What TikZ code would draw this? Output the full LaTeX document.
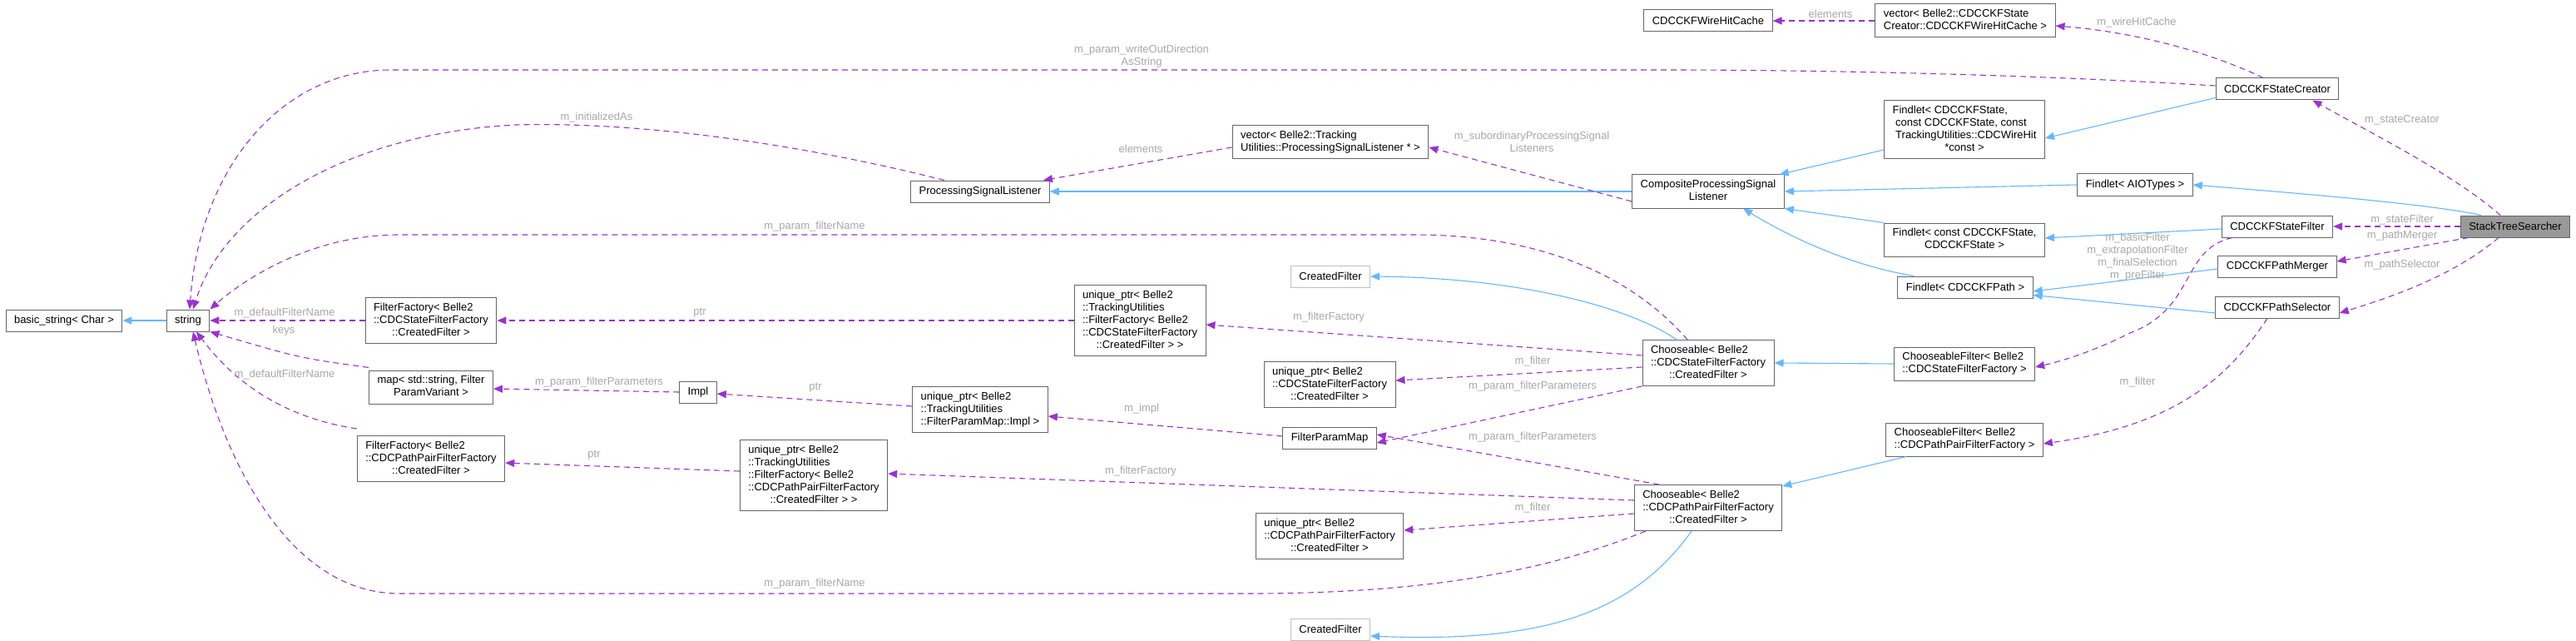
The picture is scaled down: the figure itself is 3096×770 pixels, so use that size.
\documentclass[tikz,border=0pt]{standalone}
\usepackage{fontspec}
\setmainfont{Liberation Sans}
\usetikzlibrary{arrows.meta}
\definecolor{inhc}{HTML}{63B8FF}
\definecolor{memc}{HTML}{9A32CD}
\definecolor{lblc}{HTML}{A8A8A8}
\definecolor{bdc}{HTML}{666666}
\definecolor{gbc}{HTML}{BFBFBF}
\newcommand\ml[2]{\begin{tabular}{@{}l@{}}#1\\\multicolumn{1}{@{}c@{}}{#2}\end{tabular}}
\begin{document}
\begin{tikzpicture}[x=1pt,y=-1pt,
  box/.style={draw=bdc, line width=1pt, fill=white, font=\fontsize{13}{15}\selectfont, inner xsep=10pt, inner ysep=5pt, minimum height=26pt},
  gbox/.style={box, draw=gbc},
  inh/.style={draw=inhc, line width=1.1pt, -{Triangle[length=11pt,width=9pt]}},
  mem/.style={draw=memc, line width=1.1pt, dash pattern=on 7pt off 5pt, -{Triangle[length=11pt,width=9pt]}},
  lab/.style={text=lblc, font=\fontsize{13}{15}\selectfont, inner sep=0pt, align=center}]
\path[use as bounding box, fill=white] (0,0) rectangle (3096,770);
\renewcommand\arraystretch{1}
% nodes
\node[box] (bs) at (77,385) {basic\_string< Char >};
\node[box] (str) at (226,385) {string};
\node[box] (ffs) at (518,385) {\ml{FilterFactory< Belle2\\::CDCStateFilterFactory}{::CreatedFilter >}};
\node[box] (map) at (518,465) {\ml{map< std::string, Filter}{ParamVariant >}};
\node[box] (ffp) at (518,551) {\ml{FilterFactory< Belle2\\::CDCPathPairFilterFactory}{::CreatedFilter >}};
\node[box] (impl) at (839,471) {Impl};
\node[box] (psl) at (1178,230) {ProcessingSignalListener};
\node[box] (upimpl) at (1178,492) {\ml{unique\_ptr< Belle2\\::TrackingUtilities}{::FilterParamMap::Impl >}};
\node[box] (upffp) at (978,571) {\ml{unique\_ptr< Belle2\\::TrackingUtilities\\::FilterFactory< Belle2\\::CDCPathPairFilterFactory}{::CreatedFilter > >}};
\node[box] (upffs) at (1370,385) {\ml{unique\_ptr< Belle2\\::TrackingUtilities\\::FilterFactory< Belle2\\::CDCStateFilterFactory}{::CreatedFilter > >}};
\node[box] (vpsl) at (1599,171) {\ml{vector< Belle2::Tracking}{Utilities::ProcessingSignalListener * >}};
\node[gbox] (cf1) at (1599,332) {CreatedFilter};
\node[box] (upcs) at (1598,462) {\ml{unique\_ptr< Belle2\\::CDCStateFilterFactory}{::CreatedFilter >}};
\node[box] (fpm) at (1598,526) {FilterParamMap};
\node[box] (upcp) at (1598,644) {\ml{unique\_ptr< Belle2\\::CDCPathPairFilterFactory}{::CreatedFilter >}};
\node[gbox] (cf2) at (1599,756) {CreatedFilter};
\node[box] (whc) at (2053,25) {CDCCKFWireHitCache};
\node[box] (cpsl) at (2053,230) {\ml{CompositeProcessingSignal}{Listener}};
\node[box] (chs) at (2053,436) {\ml{Chooseable< Belle2\\::CDCStateFilterFactory}{::CreatedFilter >}};
\node[box] (chp) at (2053,610) {\ml{Chooseable< Belle2\\::CDCPathPairFilterFactory}{::CreatedFilter >}};
\node[box] (vwhc) at (2362,25) {\ml{vector< Belle2::CDCCKFState}{Creator::CDCCKFWireHitCache >}};
\node[box] (f4) at (2361,156) {\ml{Findlet< CDCCKFState,\\\ const CDCCKFState, const\\\ TrackingUtilities::CDCWireHit}{*const >}};
\node[box] (fc) at (2361,288) {\ml{Findlet< const CDCCKFState,}{CDCCKFState >}};
\node[box] (fp) at (2362,345) {Findlet< CDCCKFPath >};
\node[box] (cfs) at (2361,437) {\ml{ChooseableFilter< Belle2}{::CDCStateFilterFactory >}};
\node[box] (cfp) at (2361,528) {\ml{ChooseableFilter< Belle2}{::CDCPathPairFilterFactory >}};
\node[box] (ai) at (2566,222) {Findlet< AIOTypes >};
\node[box] (sc) at (2737,107) {CDCCKFStateCreator};
\node[box] (sf) at (2737,272) {CDCCKFStateFilter};
\node[box] (pm) at (2737,320) {CDCCKFPathMerger};
\node[box] (ps) at (2737,369) {CDCCKFPathSelector};
\node[box, fill=black!40] (sts) at (3023,272) {StackTreeSearcher};
% inheritance
\draw[inh] (str.west) -- (bs.east);
\draw[inh] (cpsl.west) -- (psl.east);
\draw[inh] ([yshift=-24pt]f4.west) -- ([xshift=-6pt]cpsl.north east);
\draw[inh] (ai.west) -- (cpsl.east);
\draw[inh] (fc.north west) -- (cpsl.south east);
\draw[inh] ([xshift=20pt]fp.north west) .. controls (2230,320) and (2160,290) .. ([xshift=42pt]cpsl.south);
\draw[inh] ([yshift=3pt]sc.south west) -- ([yshift=-10pt]f4.east);
\draw[inh] ([xshift=25pt]sts.north west) .. controls (2920,245) and (2760,232) .. (ai.east);
\draw[inh] ([yshift=-3pt]sf.west) -- ([yshift=2pt]fc.east);
\draw[inh] ([yshift=-3pt]pm.west) -- ([yshift=-5pt]fp.east);
\draw[inh] ([yshift=-7pt]ps.west) -- ([yshift=4pt]fp.south east);
\draw[inh] ([xshift=-38pt]chs.north) .. controls (1960,370) and (1830,334) .. (cf1.east);
\draw[inh] (cfs.west) -- (chs.east);
\draw[inh] ([xshift=25pt]cfp.south west) -- ([yshift=-2pt]chp.north east);
\draw[inh] ([xshift=-20pt]chp.south) .. controls (1960,740) and (1850,772) .. ([yshift=-8pt]cf2.east);
% members
\draw[mem] ([yshift=4pt]sc.west) .. controls (2450,90) and (2200,84) .. (2000,84) -- (470,84) .. controls (340,84) and (240,200) .. ([xshift=2pt]str.north);
\node[lab] (l1) at (1372,68) {m\_param\_writeOutDirection\\AsString};
\draw[mem] ([xshift=-17pt]sc.north) .. controls (2650,60) and (2560,38) .. ([yshift=-6pt]vwhc.east);
\node[lab] (l2) at (2568,27) {m\_wireHitCache};
\draw[mem] (vwhc.west) -- (whc.east);
\node[lab] (l3) at (2200,17) {elements};
\draw[mem] ([xshift=-43pt]psl.north) .. controls (950,170) and (760,146) .. (620,150) .. controls (420,160) and (270,250) .. ([xshift=6pt]str.north);
\node[lab] (l4) at (717,141) {m\_initializedAs};
\draw[mem] ([yshift=-12pt]cpsl.west) -- ([yshift=-6pt]vpsl.east);
\node[lab] (l5) at (1841,170) {m\_subordinaryProcessingSignal\\Listeners};
\draw[mem] ([yshift=-6pt]vpsl.west) -- ([xshift=76pt]psl.north);
\node[lab] (l6) at (1371,179) {elements};
\draw[mem] ([xshift=-25pt]chs.north) .. controls (1960,330) and (1850,282) .. (1700,282) -- (480,282) .. controls (380,282) and (300,330) .. (str.north east);
\node[lab] (l7) at (979,272) {m\_param\_filterName};
\draw[mem] ([yshift=9pt]chs.west) -- ([yshift=-5pt]upffs.east);
\node[lab] (l8) at (1597,381) {m\_filterFactory};
\draw[mem] ([yshift=-5pt]chs.west) -- ([yshift=5pt]upcs.east);
\node[lab] (l9) at (1842,434) {m\_filter};
\draw[mem] (chs.south west) -- ([yshift=-6pt]fpm.east);
\node[lab] (l10) at (1842,464) {m\_param\_filterParameters};
\draw[mem] ([xshift=30pt]chp.north west) -- ([yshift=4pt]fpm.east);
\node[lab] (l11) at (1842,525) {m\_param\_filterParameters};
\draw[mem] ([yshift=9pt]chp.west) -- ([yshift=2pt]upffp.east);
\node[lab] (l12) at (1371,566) {m\_filterFactory};
\draw[mem] ([yshift=-7pt]chp.west) -- ([yshift=7pt]upcp.east);
\node[lab] (l13) at (1842,610) {m\_filter};
\draw[mem] ([xshift=14pt]chp.south west) .. controls (1850,690) and (1700,713) .. (1500,713) -- (480,713) .. controls (350,713) and (270,560) .. ([xshift=6pt]str.south);
\node[lab] (l14) at (979,701) {m\_param\_filterName};
\draw[mem] (upffs.west) -- (ffs.east);
\node[lab] (l15) at (841,376) {ptr};
\draw[mem] ([yshift=2pt]fpm.west) -- ([yshift=-8pt]upimpl.east);
\node[lab] (l16) at (1372,491) {m\_impl};
\draw[mem] ([yshift=4pt]upimpl.west) -- ([yshift=-2pt]impl.east);
\node[lab] (l17) at (980,466) {ptr};
\draw[mem] (impl.west) -- ([yshift=-2pt]map.east);
\node[lab] (l18) at (720,459) {m\_param\_filterParameters};
\draw[mem] ([yshift=3pt]map.north west) .. controls (360,430) .. (str.south east);
\node[lab] (l19) at (341,397) {keys};
\draw[mem] (ffs.west) -- (str.east);
\node[lab] (l20) at (342,376) {m\_defaultFilterName};
\draw[mem] ([yshift=8pt]ffp.north west) .. controls (330,500) and (275,450) .. ([xshift=10pt]str.south);
\node[lab] (l21) at (342,450) {m\_defaultFilterName};
\draw[mem] ([yshift=5pt]upffp.west) -- ([yshift=-5pt]ffp.east);
\node[lab] (l22) at (714,547) {ptr};
\draw[mem] ([xshift=-18pt]sts.north) .. controls (2950,210) and (2850,160) .. ([xshift=-32pt]sc.south east);
\node[lab] (l23) at (2887,144) {m\_stateCreator};
\draw[mem] (sts.west) -- (sf.east);
\node[lab] (l24) at (2887,264) {m\_stateFilter};
\draw[mem] ([xshift=10pt]sts.south west) -- ([yshift=6pt]pm.east);
\node[lab] (l25) at (2887,283) {m\_pathMerger};
\draw[mem] ([xshift=-20pt]sts.south) .. controls (2950,330) and (2880,355) .. ([yshift=-7pt]ps.east);
\node[lab] (l26) at (2887,318) {m\_pathSelector};
\draw[mem] ([xshift=13pt]sf.south west) .. controls (2620,300) and (2640,370) .. (2560,400) .. controls (2520,420) and (2485,432) .. ([yshift=-4pt]cfs.east);
\node[lab] (l27) at (2569,309) {m\_basicFilter\\m\_extrapolationFilter\\m\_finalSelection\\m\_preFilter};
\draw[mem] ([xshift=-12pt]ps.south) .. controls (2680,450) and (2620,510) .. ([yshift=-5pt]cfp.east);
\node[lab] (l28) at (2569,459) {m\_filter};
\end{tikzpicture}
\end{document}
